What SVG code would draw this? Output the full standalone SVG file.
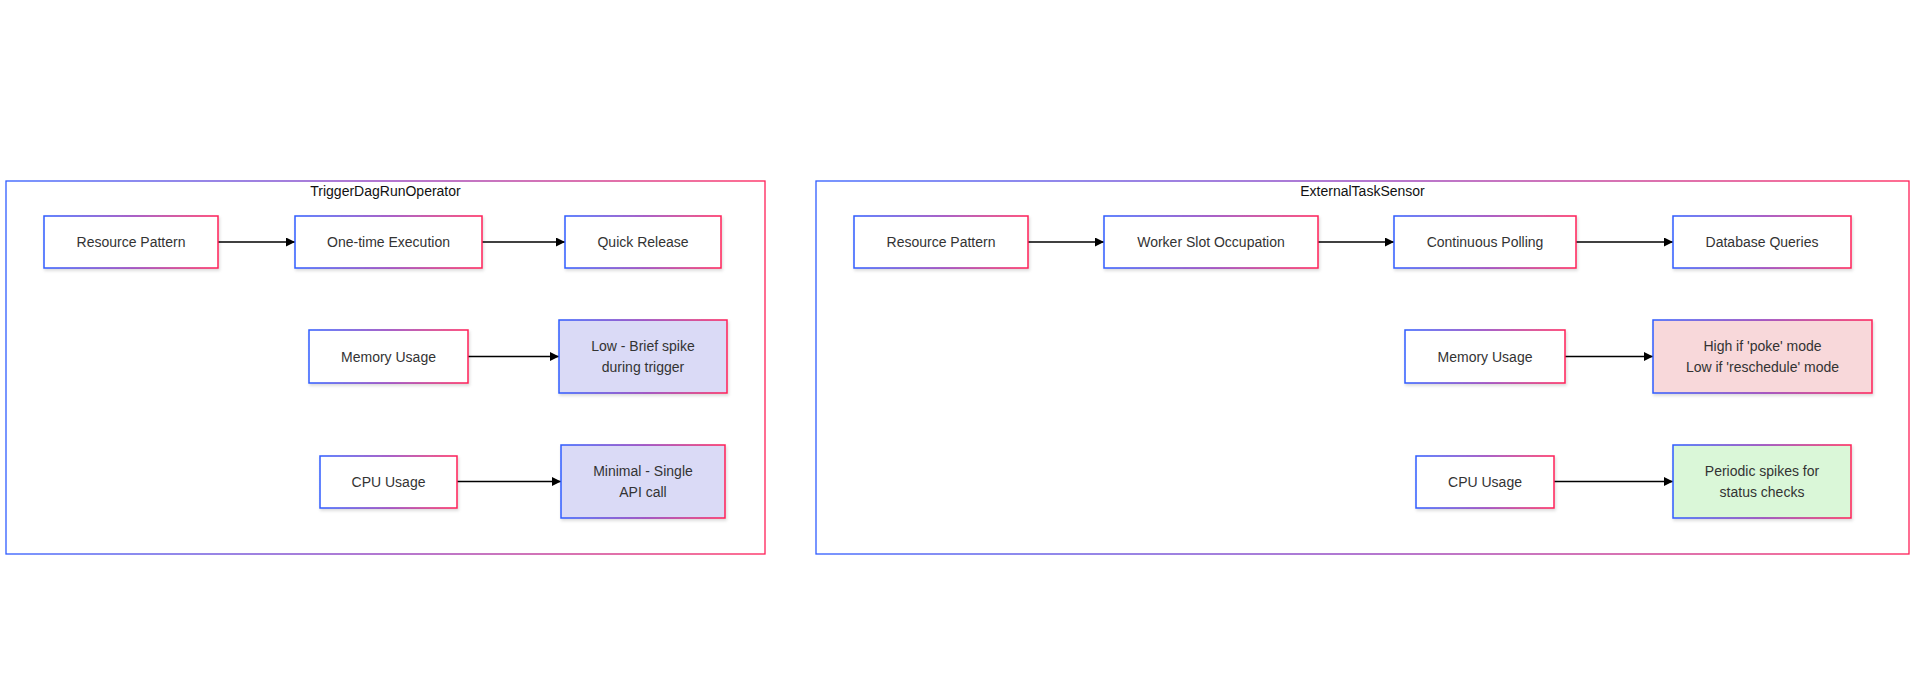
<svg xmlns="http://www.w3.org/2000/svg" width="1918" height="684" viewBox="0 0 1918 684">
  <defs>
    <linearGradient id="grad" x1="0" y1="0" x2="1" y2="0">
      <stop offset="0" stop-color="#2f5cff"/>
      <stop offset="0.5" stop-color="#8a2fb8"/>
      <stop offset="1" stop-color="#ff1f57"/>
    </linearGradient>
    <filter id="shadow" x="-10%" y="-10%" width="130%" height="140%">
      <feDropShadow dx="1" dy="2" stdDeviation="1.5" flood-color="#000" flood-opacity="0.15"/>
    </filter>
    <marker id="arrow" viewBox="0 0 10 10" refX="10" refY="5" markerWidth="9" markerHeight="9" markerUnits="userSpaceOnUse" orient="auto">
      <path d="M0,0 L10,5 L0,10 z" fill="#000"/>
    </marker>
  </defs>
  <style>
    .frame { fill: #ffffff; stroke: url(#grad); stroke-width: 1.3; }
    .title { font-family: "Liberation Sans", Arial, sans-serif; font-size: 14px; fill: #111; text-anchor: middle; dominant-baseline: central; }
    .node rect { fill: #ffffff; stroke: url(#grad); stroke-width: 1.5; filter: url(#shadow); }
    .node.lav rect { fill: #dadaf6; }
    .node.pink rect { fill: #f8d8da; }
    .node.green rect { fill: #daf7d8; }
    .node text { font-family: "Liberation Sans", Arial, sans-serif; font-size: 14px; fill: #333; text-anchor: middle; dominant-baseline: central; }
    .edge { stroke: #000; stroke-width: 1.4; fill: none; marker-end: url(#arrow); }
  </style>
  <rect width="1918" height="684" fill="#ffffff"/>

  <g id="cluster-trigger">
    <rect class="frame" x="6" y="181" width="759" height="373"/>
    <text class="title" x="385.5" y="191">TriggerDagRunOperator</text>
  </g>
  <g id="cluster-sensor">
    <rect class="frame" x="816" y="181" width="1093" height="373"/>
    <text class="title" x="1362.5" y="191">ExternalTaskSensor</text>
  </g>

  <g id="connectors">
    <line class="edge" x1="218" y1="242" x2="295" y2="242"/>
    <line class="edge" x1="482" y1="242" x2="565" y2="242"/>
    <line class="edge" x1="468" y1="356.5" x2="559" y2="356.5"/>
    <line class="edge" x1="457" y1="481.5" x2="561" y2="481.5"/>
    <line class="edge" x1="1028" y1="242" x2="1104" y2="242"/>
    <line class="edge" x1="1318" y1="242" x2="1394" y2="242"/>
    <line class="edge" x1="1576" y1="242" x2="1673" y2="242"/>
    <line class="edge" x1="1565" y1="356.5" x2="1653" y2="356.5"/>
    <line class="edge" x1="1554" y1="481.5" x2="1673" y2="481.5"/>
  </g>

  <g id="t-resource" class="node">
    <rect x="44" y="216" width="174" height="52"/>
    <text x="131" y="242">Resource Pattern</text>
  </g>
  <g id="t-onetime" class="node">
    <rect x="295" y="216" width="187" height="52"/>
    <text x="388.5" y="242">One-time Execution</text>
  </g>
  <g id="t-quick" class="node">
    <rect x="565" y="216" width="156" height="52"/>
    <text x="643" y="242">Quick Release</text>
  </g>
  <g id="t-memory" class="node">
    <rect x="309" y="330" width="159" height="53"/>
    <text x="388.5" y="356.5">Memory Usage</text>
  </g>
  <g id="t-memval" class="node lav">
    <rect x="559" y="320" width="168" height="73"/>
    <text x="643" y="346">Low - Brief spike</text>
    <text x="643" y="367">during trigger</text>
  </g>
  <g id="t-cpu" class="node">
    <rect x="320" y="456" width="137" height="52"/>
    <text x="388.5" y="482">CPU Usage</text>
  </g>
  <g id="t-cpuval" class="node lav">
    <rect x="561" y="445" width="164" height="73"/>
    <text x="643" y="471">Minimal - Single</text>
    <text x="643" y="492">API call</text>
  </g>

  <g id="s-resource" class="node">
    <rect x="854" y="216" width="174" height="52"/>
    <text x="941" y="242">Resource Pattern</text>
  </g>
  <g id="s-worker" class="node">
    <rect x="1104" y="216" width="214" height="52"/>
    <text x="1211" y="242">Worker Slot Occupation</text>
  </g>
  <g id="s-polling" class="node">
    <rect x="1394" y="216" width="182" height="52"/>
    <text x="1485" y="242">Continuous Polling</text>
  </g>
  <g id="s-db" class="node">
    <rect x="1673" y="216" width="178" height="52"/>
    <text x="1762" y="242">Database Queries</text>
  </g>
  <g id="s-memory" class="node">
    <rect x="1405" y="330" width="160" height="53"/>
    <text x="1485" y="356.5">Memory Usage</text>
  </g>
  <g id="s-memval" class="node pink">
    <rect x="1653" y="320" width="219" height="73"/>
    <text x="1762.5" y="346">High if 'poke' mode</text>
    <text x="1762.5" y="367">Low if 'reschedule' mode</text>
  </g>
  <g id="s-cpu" class="node">
    <rect x="1416" y="456" width="138" height="52"/>
    <text x="1485" y="482">CPU Usage</text>
  </g>
  <g id="s-cpuval" class="node green">
    <rect x="1673" y="445" width="178" height="73"/>
    <text x="1762" y="471">Periodic spikes for</text>
    <text x="1762" y="492">status checks</text>
  </g>
</svg>
